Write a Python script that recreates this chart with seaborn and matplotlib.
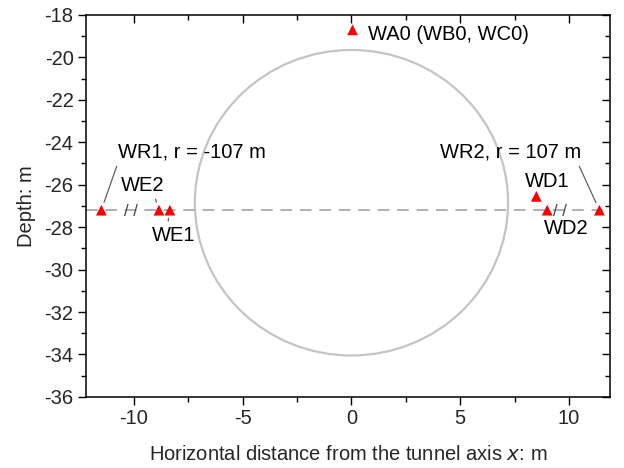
import matplotlib
matplotlib.use("Agg")
import matplotlib.pyplot as plt
import pandas as pd
import seaborn as sns
from matplotlib.patches import Circle
from matplotlib.ticker import MultipleLocator

# sensor positions (x: m, depth: m)
sensor_names = ["WA0", "WR1", "WE2", "WE1", "WD1", "WD2", "WR2"]
sensor_x = [0.05, -11.5, -8.85, -8.35, 8.5, 9.0, 11.4]
sensor_depth = [-18.7, -27.2, -27.2, -27.2, -26.55, -27.2, -27.2]
sensor_labels = ["WA0 (WB0, WC0)", "WR1, r = -107 m", "WE2", "WE1", "WD1", "WD2", "WR2, r = 107 m"]

# tunnel cross section
tunnel_center = (0.0, -26.85)
tunnel_radius = 7.2
survey_depth = -27.2

df = pd.DataFrame({"name": sensor_names, "x": sensor_x, "depth": sensor_depth, "label": sensor_labels})

sns.set_theme(style="ticks")
plt.rcParams["font.family"] = ["Liberation Sans", "DejaVu Sans"]
plt.rcParams["axes.unicode_minus"] = False

fig = plt.figure(figsize=(6.24, 4.68), dpi=100)
ax = fig.add_axes([0.138, 0.152, 0.840, 0.816])

ax.add_patch(Circle(tunnel_center, tunnel_radius, fill=False, edgecolor="#c4c4c4", linewidth=1.6, zorder=1))
ax.axhline(survey_depth, color="#b0b0b0", linestyle=(0, (6, 4)), linewidth=1.4, zorder=1)

sns.scatterplot(data=df, x="x", y="depth", marker="^", color="red", s=60, edgecolor="none", ax=ax, zorder=3)

# label offset (pixels), alignment, leader-line anchor on the text box
label_style = {
    "WA0": ((15, -5), "left", None),
    "WR1": ((17, 58), "left", (0.0, 0.0)),
    "WE2": ((-16, 25), "center", (0.75, 0.05)),
    "WE1": ((4, -25), "center", (0.35, 0.95)),
    "WD1": ((11, 15), "center", None),
    "WD2": ((19, -18), "center", None),
    "WR2": ((-18, 58), "right", (0.97, 0.0)),
}
for _, row in df.iterrows():
    off, ha, rel = label_style[row["name"]]
    props = None
    if rel is not None:
        props = dict(arrowstyle="-", color="#606060", lw=0.9, shrinkA=1, shrinkB=6, relpos=rel)
    ax.annotate(row["label"], xy=(row["x"], row["depth"]), xytext=off,
                textcoords="offset pixels", ha=ha, va="center", fontsize=14.5,
                color="black", arrowprops=props, zorder=4)

# break marks on the survey line
for bx in [-10.15, 9.6]:
    ax.text(bx, survey_depth - 0.05, "/ /", ha="center", va="center", fontsize=12,
            color="#444444", zorder=4)

ax.set_xlim(-12.2, 11.9)
ax.set_ylim(-36, -18)
ax.xaxis.set_major_locator(MultipleLocator(5))
ax.xaxis.set_minor_locator(MultipleLocator(2.5))
ax.yaxis.set_major_locator(MultipleLocator(2))
ax.yaxis.set_minor_locator(MultipleLocator(1))

ax.tick_params(which="both", top=True, right=True, labeltop=False, labelright=False,
               color="black", width=1.0)
ax.tick_params(which="major", direction="out", length=6, labelsize=14.5, pad=3)
ax.tick_params(which="minor", direction="out", length=3.5)
for t in ax.xaxis.get_major_ticks() + ax.xaxis.get_minor_ticks():
    t.tick2line.set_marker(3)
for t in ax.yaxis.get_major_ticks() + ax.yaxis.get_minor_ticks():
    t.tick2line.set_marker(0)

for sp in ax.spines.values():
    sp.set_color("black")
    sp.set_linewidth(1.1)

ax.set_xlabel("Horizontal distance from the tunnel axis $\\it{x}$: m", fontsize=14.5, labelpad=12)
ax.set_ylabel("Depth: m", fontsize=14.5, labelpad=6)

fig.savefig("out.png", dpi=100, facecolor="white")
plt.close(fig)
